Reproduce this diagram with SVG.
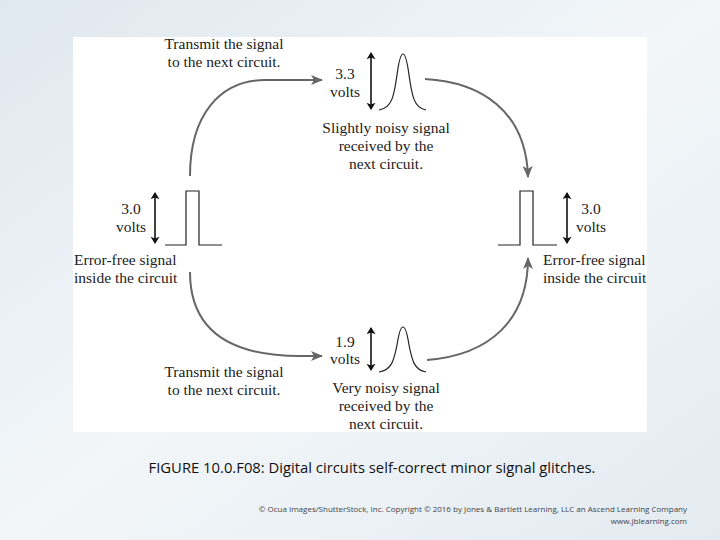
<svg xmlns="http://www.w3.org/2000/svg" width="720" height="540" viewBox="0 0 720 540">
<defs>
<linearGradient id="bg" x1="0" y1="0" x2="1" y2="1"><stop offset="0" stop-color="#dfe8ef"/><stop offset="0.5" stop-color="#f2f6f9"/><stop offset="1" stop-color="#e3ebf1"/></linearGradient>
<marker id="ga" viewBox="0 0 12 10" refX="11" refY="5" markerWidth="12" markerHeight="10" markerUnits="userSpaceOnUse" orient="auto"><path d="M0,0 L12,5 L0,10 L3,5 Z" fill="#666"/></marker>
<marker id="ba" viewBox="0 0 8 10" refX="7" refY="5" markerWidth="8" markerHeight="9" markerUnits="userSpaceOnUse" orient="auto-start-reverse"><path d="M0,0 L8,5 L0,10 L2,5 Z" fill="#111"/></marker>
</defs>
<style>
.t{font-family:"Liberation Serif",serif;font-size:15.5px;fill:#222}
.c{stroke:#666;stroke-width:2;fill:none;marker-end:url(#ga)}
.s{stroke:#222;stroke-width:1.2;fill:none}
.v{stroke:#111;stroke-width:1.6;marker-start:url(#ba);marker-end:url(#ba)}
</style>
<rect width="720" height="540" fill="url(#bg)"/>
<rect x="73" y="37" width="574" height="395" fill="#fff"/>
<g id="connectors">
<path class="c" d="M190,176 C190,115 220,80 265,80 L322,80"/>
<path class="c" d="M425,79 C480,82 526,110 528,177"/>
<path class="c" d="M190,272 C190,330 230,356 300,356 L322,356"/>
<path class="c" d="M427,360 C490,355 528,320 528,258"/>
</g>
<g id="left">
<path class="s" d="M165,245 H186 V191 H199 V245 H222"/>
<line class="v" x1="155" y1="193" x2="155" y2="243"/>
<text class="t" x="131" y="214" text-anchor="middle">3.0</text>
<text class="t" x="131" y="232" text-anchor="middle">volts</text>
<text class="t" x="74" y="265">Error-free signal</text>
<text class="t" x="74" y="283">inside the circuit</text>
</g>
<g id="right">
<path class="s" d="M498,245 H520 V191 H533 V245 H557"/>
<line class="v" x1="567" y1="193" x2="567" y2="243"/>
<text class="t" x="591" y="214" text-anchor="middle">3.0</text>
<text class="t" x="591" y="232" text-anchor="middle">volts</text>
<text class="t" x="543" y="265">Error-free signal</text>
<text class="t" x="543" y="283">inside the circuit</text>
</g>
<g id="top">
<path class="s" d="M379,110 C392,108 394,96 397,75 C399,60 401,54 403,54 C405,54 407,60 409,75 C412,96 414,108 426,110"/>
<line class="v" x1="371" y1="53" x2="371" y2="109"/>
<text class="t" x="345" y="79" text-anchor="middle">3.3</text>
<text class="t" x="345" y="97" text-anchor="middle">volts</text>
<text class="t" x="386" y="133" text-anchor="middle">Slightly noisy signal</text>
<text class="t" x="386" y="151" text-anchor="middle">received by the</text>
<text class="t" x="386" y="169" text-anchor="middle">next circuit.</text>
<text class="t" x="224" y="49" text-anchor="middle">Transmit the signal</text>
<text class="t" x="224" y="67" text-anchor="middle">to the next circuit.</text>
</g>
<g id="bottom">
<path class="s" d="M379,372 C392,370 394,360 397,345 C399,332 401,327 403,327 C405,327 407,332 409,345 C412,360 414,370 426,372"/>
<line class="v" x1="371" y1="328" x2="371" y2="370"/>
<text class="t" x="345" y="347" text-anchor="middle">1.9</text>
<text class="t" x="345" y="364" text-anchor="middle">volts</text>
<text class="t" x="386" y="393" text-anchor="middle">Very noisy signal</text>
<text class="t" x="386" y="411" text-anchor="middle">received by the</text>
<text class="t" x="386" y="429" text-anchor="middle">next circuit.</text>
<text class="t" x="224" y="377" text-anchor="middle">Transmit the signal</text>
<text class="t" x="224" y="395" text-anchor="middle">to the next circuit.</text>
</g>
<text x="372" y="473" text-anchor="middle" font-family="Open Sans,sans-serif" font-size="14.8" fill="#111">FIGURE 10.0.F08: Digital circuits self-correct minor signal glitches.</text>
<text x="687" y="512" text-anchor="end" font-family="Open Sans,sans-serif" font-size="8" fill="#444">© Ocua Images/ShutterStock, Inc. Copyright © 2016 by Jones &amp; Bartlett Learning, LLC an Ascend Learning Company</text>
<text x="687" y="524" text-anchor="end" font-family="Open Sans,sans-serif" font-size="8" fill="#444">www.jblearning.com</text>
</svg>
